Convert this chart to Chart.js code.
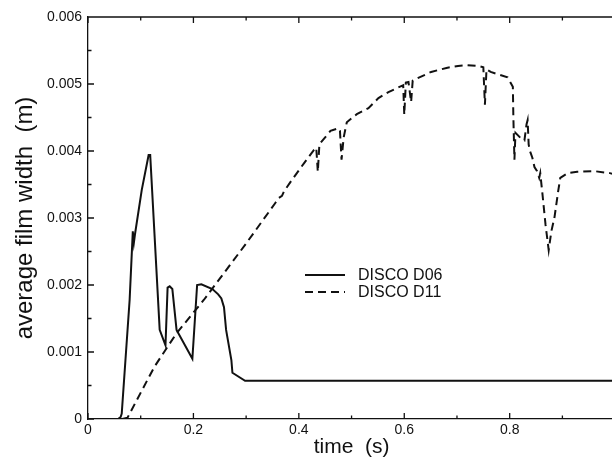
<!DOCTYPE html>
<html>
<head>
<meta charset="utf-8">
<script src="https://cdn.jsdelivr.net/npm/chart.js@4/dist/chart.umd.min.js"></script>
<style>
html,body{margin:0;padding:0;background:#fff;overflow:hidden;width:612px;height:460px;}
#wrap{position:absolute;left:0;top:0;width:622px;height:460px;}
</style>
</head>
<body>
<div id="wrap"><canvas id="c" width="622" height="460"></canvas></div>
<script>
// ---- data ----
const xTickValues = [0, 0.2, 0.4, 0.6, 0.8, 1];
const xTickLabels = ["0", "0.2", "0.4", "0.6", "0.8", "1"];
const yTickValues = [0, 0.001, 0.002, 0.003, 0.004, 0.005, 0.006];
const yTickLabels = ["0", "0.001", "0.002", "0.003", "0.004", "0.005", "0.006"];
const seriesNames = ["DISCO D06", "DISCO D11"];

const d06Time = [0, 0.057, 0.062, 0.064, 0.079, 0.085, 0.087, 0.089, 0.102, 0.115, 0.118, 0.136, 0.147, 0.151, 0.155, 0.160, 0.168, 0.198, 0.207, 0.215, 0.236, 0.247, 0.253, 0.258, 0.262, 0.272, 0.274, 0.298, 1.0];
const d06Width = [0, 0, 0.00003, 0.00008, 0.00178, 0.0028, 0.00263, 0.00275, 0.00342, 0.00394, 0.00394, 0.00133, 0.0011, 0.00196, 0.00198, 0.00194, 0.00133, 0.0009, 0.002, 0.00201, 0.00194, 0.00186, 0.0018, 0.00167, 0.00133, 0.00088, 0.00069, 0.00057, 0.00057];

const d11Time = [0.065, 0.075, 0.126, 0.168, 0.22, 0.30, 0.355, 0.362, 0.368, 0.372, 0.387, 0.41, 0.428, 0.433, 0.436, 0.439, 0.441, 0.46, 0.475, 0.478, 0.481, 0.485, 0.491, 0.51, 0.532, 0.551, 0.57, 0.592, 0.598, 0.600, 0.603, 0.608, 0.613, 0.616, 0.621, 0.651, 0.68, 0.702, 0.72, 0.740, 0.750, 0.753, 0.756, 0.764, 0.78, 0.796, 0.806, 0.807, 0.809, 0.811, 0.82, 0.828, 0.832, 0.834, 0.836, 0.838, 0.843, 0.847, 0.852, 0.856, 0.858, 0.862, 0.868, 0.874, 0.879, 0.885, 0.892, 0.896, 0.91, 0.928, 0.96, 0.99, 1.0];
const d11Width = [0, 0.00002, 0.00078, 0.00128, 0.00178, 0.00262, 0.00322, 0.0033, 0.00333, 0.0034, 0.00357, 0.00382, 0.00401, 0.00405, 0.00369, 0.0041, 0.00412, 0.0043, 0.00434, 0.0043, 0.00387, 0.0042, 0.00443, 0.00455, 0.00464, 0.00479, 0.00488, 0.00496, 0.00498, 0.00454, 0.00502, 0.00503, 0.00473, 0.00505, 0.00507, 0.00518, 0.00524, 0.00527, 0.00528, 0.00527, 0.00525, 0.00469, 0.00522, 0.00518, 0.00514, 0.0051, 0.00496, 0.0045, 0.00387, 0.00427, 0.0042, 0.00416, 0.0044, 0.00446, 0.0041, 0.00401, 0.0039, 0.00376, 0.0037, 0.0036, 0.00367, 0.00337, 0.0029, 0.00252, 0.0028, 0.00301, 0.0034, 0.0036, 0.00367, 0.00369, 0.0037, 0.00367, 0.00365];

const FONT = "'Liberation Sans', Arial, Helvetica, sans-serif";
const INK = "#111";

const toPts = (xs, ys) => xs.map((x, i) => ({x: x, y: ys[i]}));

// inward ticks, top frame and in-plot legend
const framePlugin = {
  id: 'frame',
  afterDraw(chart) {
    const {ctx, chartArea: a, scales: {x, y}} = chart;
    ctx.save();
    ctx.strokeStyle = INK;
    ctx.lineWidth = 1.3;
    ctx.beginPath();
    ctx.moveTo(a.left, a.top); ctx.lineTo(a.right, a.top);
    for (let k = 0; k <= 10; k++) {
      const px = x.getPixelForValue(k * 0.1);
      const len = k % 2 === 0 ? 6 : 3.5;
      ctx.moveTo(px, a.bottom); ctx.lineTo(px, a.bottom - len);
      ctx.moveTo(px, a.top); ctx.lineTo(px, a.top + len);
    }
    for (let k = 0; k <= 12; k++) {
      const py = y.getPixelForValue(k * 0.0005);
      const len = k % 2 === 0 ? 6 : 3.5;
      ctx.moveTo(a.left, py); ctx.lineTo(a.left + len, py);
    }
    ctx.stroke();

    // legend
    const lx0 = 305, lx1 = 345, tx = 358;
    const rows = [275, 292];
    ctx.font = "16px " + FONT;
    ctx.fillStyle = INK;
    ctx.textBaseline = 'middle';
    chart.data.datasets.forEach((ds, i) => {
      ctx.beginPath();
      ctx.lineWidth = 2;
      ctx.setLineDash(ds.borderDash || []);
      ctx.moveTo(lx0, rows[i]); ctx.lineTo(lx1, rows[i]);
      ctx.stroke();
      ctx.setLineDash([]);
      ctx.fillText(ds.label, tx, rows[i] + 1);
    });
    ctx.restore();
  }
};

new Chart(document.getElementById('c'), {
  type: 'line',
  data: {
    datasets: [
      {label: seriesNames[0], data: toPts(d06Time, d06Width), borderColor: INK, borderWidth: 2, pointRadius: 0, tension: 0, fill: false},
      {label: seriesNames[1], data: toPts(d11Time, d11Width), borderColor: INK, borderWidth: 2, borderDash: [8, 5], pointRadius: 0, tension: 0, fill: false}
    ]
  },
  options: {
    responsive: false,
    animation: false,
    devicePixelRatio: 1,
    layout: {padding: {top: 17, right: 4, left: 0, bottom: 0}},
    plugins: {legend: {display: false}, tooltip: {enabled: false}},
    scales: {
      x: {
        type: 'linear', min: 0, max: 1,
        afterBuildTicks(s) { s.ticks = xTickValues.map(v => ({value: v})); },
        afterFit(s) { s.height = 41; },
        grid: {display: false, drawTicks: false},
        border: {display: true, color: INK, width: 1.3},
        ticks: {
          padding: 3, color: INK, font: {family: FONT, size: 14}, maxRotation: 0, autoSkip: false,
          callback: (v) => { const i = xTickValues.findIndex(t => Math.abs(t - v) < 1e-9); return i >= 0 ? xTickLabels[i] : ''; }
        },
        title: {display: true, text: 'time  (s)', color: INK, font: {family: FONT, size: 21}, padding: {top: 0, bottom: 0}}
      },
      y: {
        type: 'linear', min: 0, max: 0.006,
        afterBuildTicks(s) { s.ticks = yTickValues.map(v => ({value: v})); },
        afterFit(s) { s.width = 88; },
        grid: {display: false, drawTicks: false},
        border: {display: true, color: INK, width: 1.3},
        ticks: {
          padding: 6, color: INK, font: {family: FONT, size: 14},
          callback: (v) => { const i = yTickValues.findIndex(t => Math.abs(t - v) < 1e-12); return i >= 0 ? yTickLabels[i] : ''; }
        },
        title: {display: true, text: 'average film width  (m)', color: INK, font: {family: FONT, size: 24}, padding: {top: 11, bottom: 0}}
      }
    }
  },
  plugins: [framePlugin]
});
</script>
</body>
</html>
